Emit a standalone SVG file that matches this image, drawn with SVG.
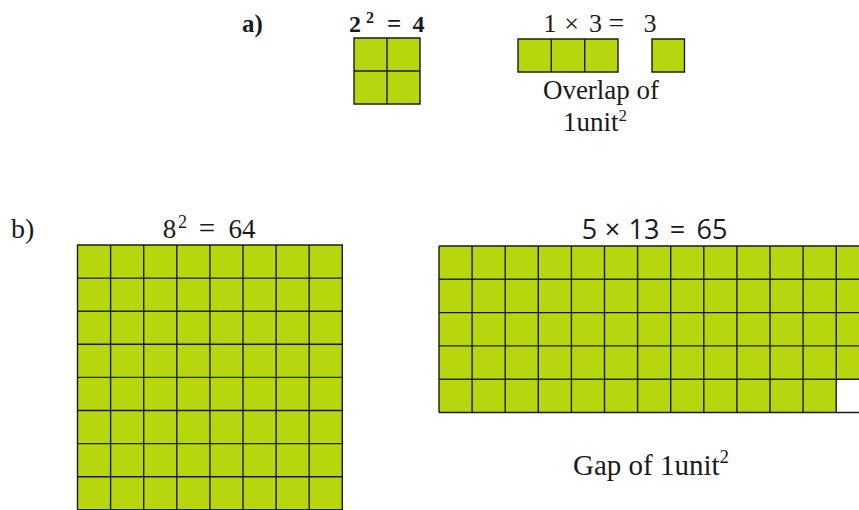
<svg xmlns="http://www.w3.org/2000/svg" width="859" height="510" viewBox="0 0 859 510">
<style>
.g{fill:#b7d60d}
.ln{fill:none;stroke:#1c1c1c;stroke-width:1.4}
.serif{font-family:"Liberation Serif","DejaVu Serif",serif;fill:#1a1a1a}
.sans{font-family:"Open Sans","Liberation Sans",sans-serif;fill:#1a1a1a}
.m{text-anchor:middle}
</style>
<rect width="859" height="510" fill="#ffffff"/>
<g id="label-a"><text class="serif" x="242" y="32" font-size="25" font-weight="bold">a)</text></g>
<g id="label-b"><text class="serif" x="11" y="238" font-size="28">b)</text></g>

<g id="sq2">
<text class="serif m" y="32" font-size="24" font-weight="bold"><tspan x="355">2</tspan><tspan x="370" dy="-9" font-size="16">2</tspan><tspan x="394" dy="9" font-size="25">=</tspan><tspan x="418.5">4</tspan></text>
<rect class="g" x="354" y="38" width="66" height="66"/>
<path class="ln" d="M354 38H420V104H354Z M387 38V104 M354 71H420"/>
</g>

<g id="rect13">
<text class="serif m" y="32" font-size="26"><tspan x="550">1</tspan><tspan x="571.5">×</tspan><tspan x="595.5">3</tspan><tspan x="616.5" font-size="28">=</tspan><tspan x="650">3</tspan></text>
<rect class="g" x="518" y="39" width="100" height="33"/>
<path class="ln" d="M518 39H618V72H518Z M551.3 39V72 M584.7 39V72"/>
<rect class="g" x="652" y="39" width="32.5" height="33"/>
<path class="ln" d="M652 39H684.5V72H652Z"/>
<text class="serif" x="601" y="99" font-size="27" text-anchor="middle">Overlap of</text>
<text class="serif" x="563" y="131" font-size="27">1unit<tspan font-size="17" dy="-10">2</tspan></text>
</g>

<g id="sq8">
<text class="serif m" y="238" font-size="27"><tspan x="169.5">8</tspan><tspan x="182.5" dy="-10" font-size="18">2</tspan><tspan x="207" dy="10" font-size="29">=</tspan><tspan x="242">64</tspan></text>
<rect class="g" x="77.5" y="245" width="264.8" height="265"/>
<path class="ln" d="M77.5 245H342.3V509.8H77.5Z
M110.6 245V510 M143.7 245V510 M176.8 245V510 M209.9 245V510 M243 245V510 M276.1 245V510 M309.2 245V510
M77.5 278.1H342.3 M77.5 311.2H342.3 M77.5 344.3H342.3 M77.5 377.4H342.3 M77.5 410.5H342.3 M77.5 443.6H342.3 M77.5 476.7H342.3"/>
</g>

<g id="rect513">
<text class="sans m" y="239" font-size="27"><tspan x="589.5">5</tspan><tspan x="612.5">×</tspan><tspan x="644">13</tspan><tspan x="677.5">=</tspan><tspan x="712">65</tspan></text>
<rect class="g" x="439" y="246" width="420" height="166.5"/>
<rect x="836" y="379.2" width="23" height="33.3" fill="#ffffff"/>
<path class="ln" d="M439 246H859 M439 279.3H859 M439 312.6H859 M439 345.9H859 M439 379.2H859 M439 412.5H859
M439 246V412.5 M472.1 246V412.5 M505.2 246V412.5 M538.3 246V412.5 M571.4 246V412.5 M604.5 246V412.5 M637.6 246V412.5 M670.7 246V412.5 M703.8 246V412.5 M736.9 246V412.5 M770 246V412.5 M803.1 246V412.5 M836.2 246V412.5"/>
<text class="serif" x="573" y="475" font-size="29">Gap of 1unit<tspan font-size="19" dy="-12">2</tspan></text>
</g>
</svg>
